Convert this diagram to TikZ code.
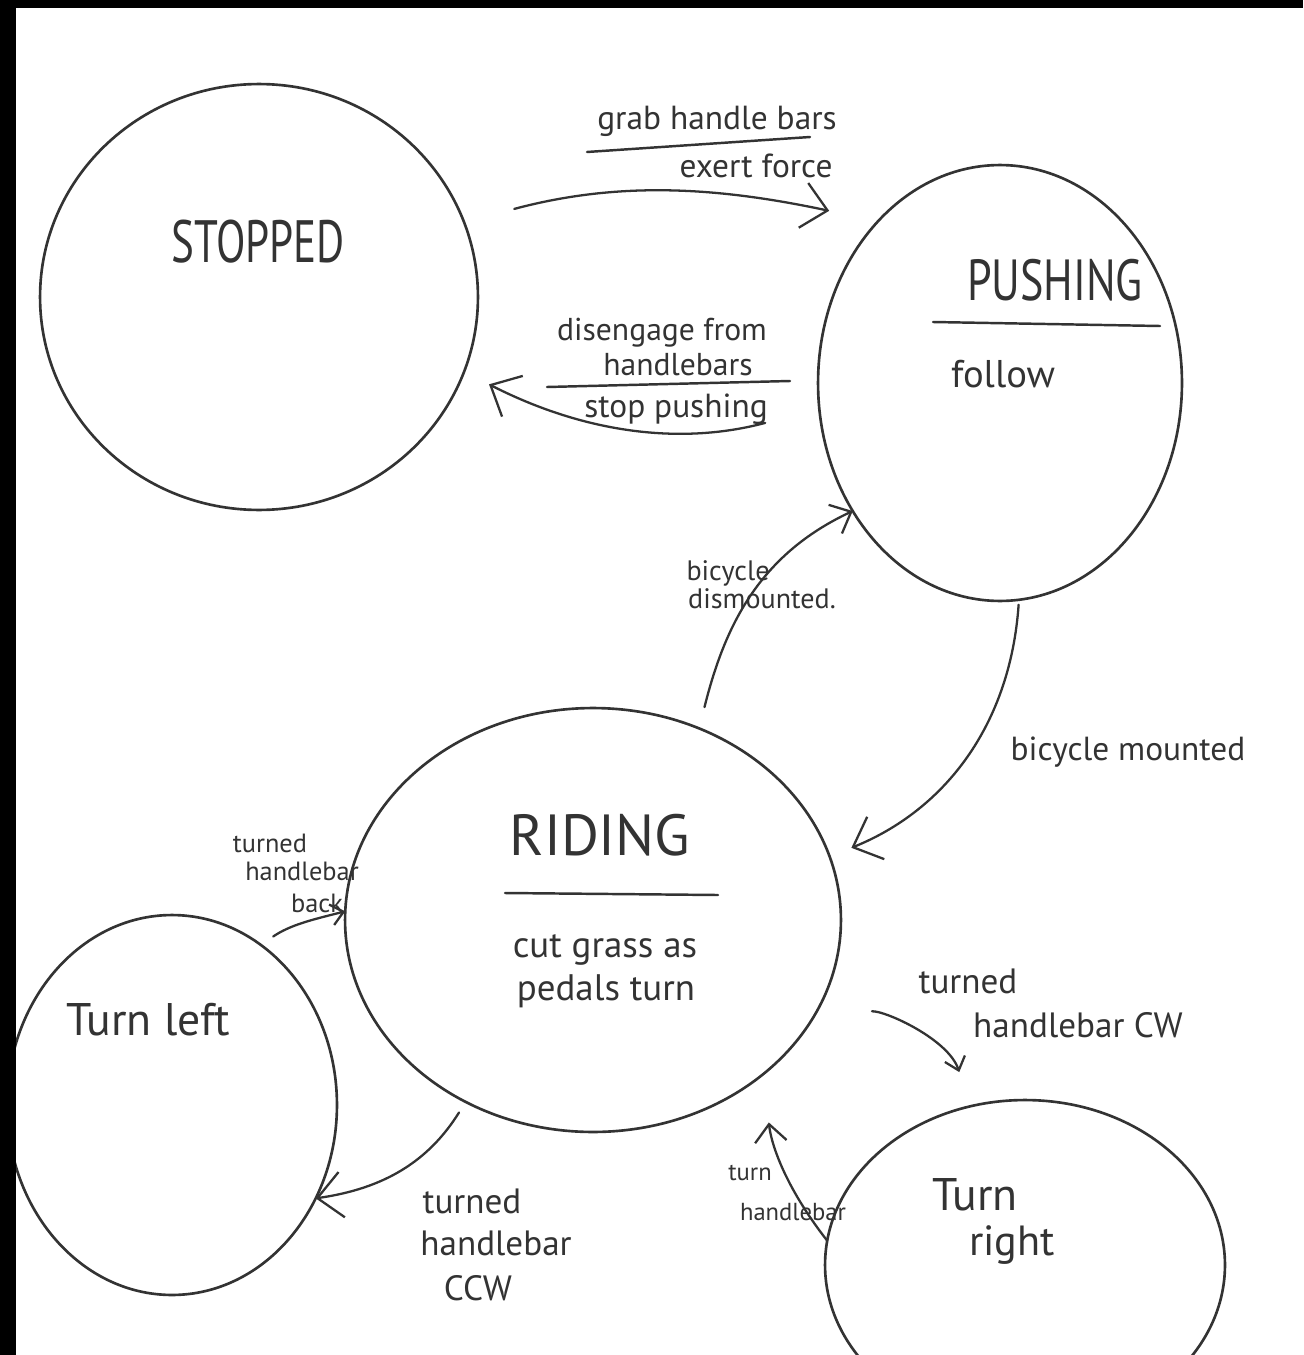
\documentclass[tikz,border=0pt]{standalone}
\usepackage{fontspec}
\usepackage{graphicx}
\setmainfont{PT Sans}
\usetikzlibrary{arrows.meta,shapes.geometric}
\definecolor{ink}{HTML}{333333}
\tikzset{
  state/.style={ellipse, draw=ink, line width=1.5pt, inner sep=0pt, outer sep=0pt},
  lbl/.style={text=ink, inner sep=0pt, anchor=base},
  conn/.style={draw=ink, line width=1.3pt, line cap=round, line join=round},
  bigH/.style={-{Straight Barb[length=14pt,width=26pt]}},
  midH/.style={-{Straight Barb[length=10pt,width=18pt]}},
  smallH/.style={-{Straight Barb[length=7pt,width=12pt]}},
  divider/.style={draw=ink, line width=1.4pt, line cap=round},
}
\newcommand{\fs}[1]{\fontsize{#1}{#1}\selectfont}
\begin{document}
\begin{tikzpicture}[x=0.02cm,y=0.02cm]
\useasboundingbox (0,0) rectangle (1303,-1355);
\clip (0,0) rectangle (1303,-1355);
\fill[white] (0,0) rectangle (1303,-1355);

% states
\node[state, minimum width=8.76cm, minimum height=8.52cm] (stop) at (259,-297) {};
\node[state, minimum width=7.28cm, minimum height=8.72cm] (push) at (1000,-383) {};
\node[state, minimum width=9.92cm, minimum height=8.48cm] (ride) at (593,-920) {};
\node[state, minimum width=6.6cm, minimum height=7.6cm] (tleft) at (172,-1105) {};
\node[state, minimum width=8cm, minimum height=6.6cm] (tright) at (1025,-1265) {};

% state texts
\node[lbl, font=\fs{34}] (tStop) at (258,-262) {\scalebox{0.72}[1]{STOPPED}};
\node[lbl, font=\fs{33}] (tPush) at (1055,-300) {\scalebox{0.76}[1]{PUSHING}};
\draw[divider] (933,-322) -- (1160,-326);
\node[lbl, font=\fs{22}] (tFollow) at (1003,-387) {follow};
\node[lbl, font=\fs{33}] (tRide) at (600,-855) {RIDING};
\draw[divider] (505,-893) -- (718,-895);
\node[lbl, font=\fs{21}] (tCut) at (605,-957) {cut grass as};
\node[lbl, font=\fs{21}] (tPed) at (606,-1000) {pedals turn};
\node[lbl, font=\fs{26}] (tLeft) at (148,-1035) {Turn left};
\node[lbl, font=\fs{26}] (tR1) at (975,-1210) {Turn};
\node[lbl, font=\fs{24}] (tR2) at (1012,-1255) {right};

% transition labels
\node[lbl, font=\fs{19}] (tGrab) at (717,-130) {grab handle bars};
\draw[divider] (587,-152) -- (810,-137);
\node[lbl, font=\fs{19}] (tExert) at (756,-177) {exert force};
\node[lbl, font=\fs{18}] (tDis) at (662,-340) {disengage from};
\node[lbl, font=\fs{18}] (tHb) at (678,-375) {handlebars};
\draw[divider] (547,-387) -- (790,-381);
\node[lbl, font=\fs{19}] (tStopP) at (676,-417) {stop pushing};
\node[lbl, font=\fs{16}] (tBic1) at (728,-580) {bicycle};
\node[lbl, font=\fs{16}] (tBic2) at (762,-608) {dismounted.};
\node[lbl, font=\fs{19}] (tMount) at (1128,-760) {bicycle mounted};
\node[lbl, font=\fs{15}] (tB1) at (270,-852) {turned};
\node[lbl, font=\fs{15}] (tB2) at (302,-880) {handlebar};
\node[lbl, font=\fs{15}] (tB3) at (317,-912) {back};
\node[lbl, font=\fs{20}] (tCW1) at (968,-993) {turned};
\node[lbl, font=\fs{20}] (tCW2) at (1078,-1037) {handlebar CW};
\node[lbl, font=\fs{14}] (tH1) at (750,-1180) {turn};
\node[lbl, font=\fs{14}] (tH2) at (793,-1220) {handlebar};
\node[lbl, font=\fs{20}] (tCCW1) at (472,-1213) {turned};
\node[lbl, font=\fs{20}] (tCCW2) at (496,-1255) {handlebar};
\node[lbl, font=\fs{20}] (tCCW3) at (478,-1300) {CCW};

% transitions
\draw[conn, bigH, shorten <=1.04cm, shorten >=1.0cm] (stop.20) to[out=15, in=168] (push.127);
\draw[conn, bigH, shorten <=1.12cm, shorten >=0.56cm] (push.188) to[out=195, in=-27] (stop.340);
\draw[conn, midH, shorten <=0.44cm] (ride.61) to[out=76, in=205] (push.221);
\draw[conn, bigH, shorten <=0.1cm, shorten >=0.47cm] (push.275) to[out=266, in=22] (ride.15);
\draw[conn, smallH, shorten <=0.3cm] (tleft.61) to[out=34, in=194] (ride.178);
\draw[conn, bigH, shorten <=0.25cm] (ride.235) to[out=238, in=8] (tleft.327);
\draw[conn, smallH, shorten <=1.14cm, shorten >=0.72cm] (ride.337) to[out=3, in=108] (tright.109);
\draw[conn, midH, shorten >=0.98cm] (tright.173) to[out=128, in=-84] (ride.318);

% scan border
\fill[black] (0,0) rectangle (1303,-8);
\fill[black] (0,0) rectangle (16,-1355);
\end{tikzpicture}
\end{document}
